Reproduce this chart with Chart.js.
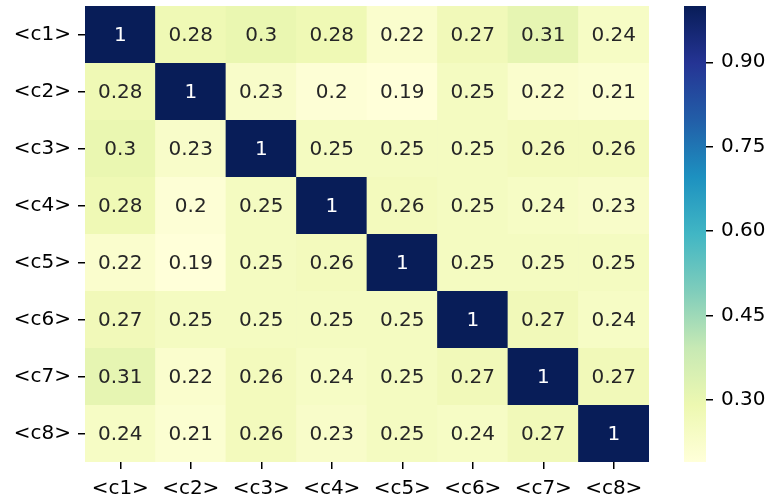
<!DOCTYPE html>
<html>
<head>
<meta charset="utf-8">
<script src="https://cdn.jsdelivr.net/npm/chart.js@4.4.1/dist/chart.umd.min.js"></script>
<style>
  html, body { margin: 0; padding: 0; background: #fff; }
  #wrap { position: relative; width: 769px; height: 500px; }
  #heat { position: absolute; left: 0; top: 0; }
  #cbar { position: absolute; left: 660px; top: 0; }
</style>
</head>
<body>
<div id="wrap">
  <canvas id="heat" width="670" height="500"></canvas>
  <canvas id="cbar" width="109" height="500"></canvas>
</div>
<script>
// Correlation matrix between the eight components
const rowLabels = ['<c1>', '<c2>', '<c3>', '<c4>', '<c5>', '<c6>', '<c7>', '<c8>'];
const colLabels = ['<c1>', '<c2>', '<c3>', '<c4>', '<c5>', '<c6>', '<c7>', '<c8>'];
const row1 = [1, 0.28, 0.3, 0.28, 0.22, 0.27, 0.31, 0.24];
const row2 = [0.28, 1, 0.23, 0.2, 0.19, 0.25, 0.22, 0.21];
const row3 = [0.3, 0.23, 1, 0.25, 0.25, 0.25, 0.26, 0.26];
const row4 = [0.28, 0.2, 0.25, 1, 0.26, 0.25, 0.24, 0.23];
const row5 = [0.22, 0.19, 0.25, 0.26, 1, 0.25, 0.25, 0.25];
const row6 = [0.27, 0.25, 0.25, 0.25, 0.25, 1, 0.27, 0.24];
const row7 = [0.31, 0.22, 0.26, 0.24, 0.25, 0.27, 1, 0.27];
const row8 = [0.24, 0.21, 0.26, 0.23, 0.25, 0.24, 0.27, 1];
const matrix = [row1, row2, row3, row4, row5, row6, row7, row8];
const colorbarTicks = [0.30, 0.45, 0.60, 0.75, 0.90];

const vmin = Math.min(...matrix.flat());
const vmax = Math.max(...matrix.flat());

// YlGnBu colour ramp
const ramp = ['#ffffd9', '#edf8b1', '#c7e9b4', '#7fcdbb', '#41b6c4', '#1d91c0', '#225ea8', '#253494', '#081d58'];
const rampRgb = ramp.map(h => [parseInt(h.slice(1, 3), 16), parseInt(h.slice(3, 5), 16), parseInt(h.slice(5, 7), 16)]);

function cmap(v) {
  let t = (v - vmin) / (vmax - vmin);
  t = Math.max(0, Math.min(1, t));
  const pos = t * (rampRgb.length - 1);
  const i = Math.min(Math.floor(pos), rampRgb.length - 2);
  const f = pos - i;
  const a = rampRgb[i], b = rampRgb[i + 1];
  return [0, 1, 2].map(k => Math.round(a[k] + (b[k] - a[k]) * f));
}
function cssColor(rgb) { return 'rgb(' + rgb.join(',') + ')'; }
function isDark(rgb) {
  const lin = rgb.map(c => { c /= 255; return c <= 0.03928 ? c / 12.92 : Math.pow((c + 0.055) / 1.055, 2.4); });
  return (0.2126 * lin[0] + 0.7152 * lin[1] + 0.0722 * lin[2]) <= 0.408;
}
function fmt(v) { return String(Number(v.toPrecision(2))); }

Chart.defaults.font.family = "'DejaVu Sans', sans-serif";
Chart.defaults.font.size = 20;
Chart.defaults.color = '#000';

// One floating-bar dataset per row; each bar spans [r, r+1] on the row axis
const datasets = matrix.map((vals, r) => ({
  label: rowLabels[r],
  data: vals.map(() => [r, r + 1]),
  values: vals,
  backgroundColor: vals.map(v => cssColor(cmap(v))),
  borderWidth: 0,
  barPercentage: 1.01,
  categoryPercentage: 1,
  grouped: false
}));

const annotate = {
  id: 'annotate',
  afterDatasetsDraw(chart) {
    const c = chart.ctx;
    c.save();
    c.font = "20px 'DejaVu Sans', sans-serif";
    c.textAlign = 'center';
    c.textBaseline = 'middle';
    chart.data.datasets.forEach((ds, di) => {
      const meta = chart.getDatasetMeta(di);
      meta.data.forEach((el, j) => {
        const v = ds.values[j];
        c.fillStyle = isDark(cmap(v)) ? '#ffffff' : '#262626';
        c.fillText(fmt(v), el.x, (el.y + el.base) / 2 + 1);
      });
    });
    c.restore();
  }
};

const tickGrid = { drawOnChartArea: false, drawTicks: true, tickLength: 7, color: '#000', lineWidth: 1.5 };
function noEdgePadding(s) {
  s.paddingTop = 0; s.paddingBottom = 0; s.paddingLeft = 0; s.paddingRight = 0;
}

new Chart(document.getElementById('heat'), {
  type: 'bar',
  data: { labels: colLabels, datasets },
  options: {
    responsive: false,
    animation: false,
    layout: { padding: { top: 6, right: 21, left: 0, bottom: 0 } },
    plugins: { legend: { display: false }, tooltip: { enabled: false } },
    scales: {
      x: {
        type: 'category',
        grid: Object.assign({ offset: false }, tickGrid),
        border: { display: false },
        ticks: { padding: 8, maxRotation: 0, autoSkip: false },
        afterFit(s) { s.height = 38; noEdgePadding(s); }
      },
      y: {
        type: 'linear',
        min: 0,
        max: rowLabels.length,
        reverse: true,
        grid: tickGrid,
        border: { display: false },
        ticks: {
          padding: 7,
          autoSkip: false,
          callback: (v, i) => rowLabels[i]
        },
        afterBuildTicks(s) { s.ticks = rowLabels.map((_, i) => ({ value: i + 0.5 })); },
        afterFit(s) { s.width = 85; noEdgePadding(s); }
      }
    }
  },
  plugins: [annotate]
});

// Colour bar
new Chart(document.getElementById('cbar'), {
  type: 'bar',
  data: {
    labels: ['scale'],
    datasets: [{
      data: [[vmin, vmax]],
      borderWidth: 0,
      barPercentage: 1,
      categoryPercentage: 1,
      backgroundColor(ctx) {
        const area = ctx.chart.chartArea;
        if (!area) return ramp[0];
        const g = ctx.chart.ctx.createLinearGradient(0, area.bottom, 0, area.top);
        ramp.forEach((h, i) => g.addColorStop(i / (ramp.length - 1), h));
        return g;
      }
    }]
  },
  options: {
    responsive: false,
    animation: false,
    layout: { padding: { top: 6, right: 0, left: 24, bottom: 38 } },
    plugins: { legend: { display: false }, tooltip: { enabled: false } },
    scales: {
      x: { display: false },
      y: {
        type: 'linear',
        position: 'right',
        min: vmin,
        max: vmax,
        grid: tickGrid,
        border: { display: false },
        ticks: { padding: 8, callback: v => v.toFixed(2) },
        afterBuildTicks(s) { s.ticks = colorbarTicks.map(v => ({ value: v })); },
        afterFit(s) { s.width = 63; noEdgePadding(s); }
      }
    }
  }
});
</script>
</body>
</html>
